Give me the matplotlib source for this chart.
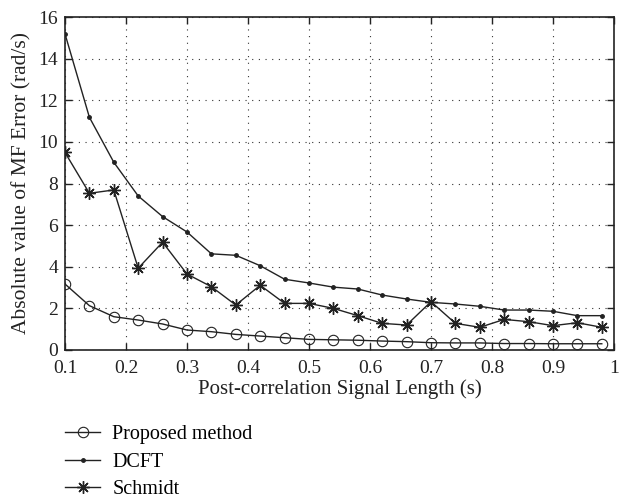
import matplotlib
matplotlib.use("Agg")
import matplotlib.pyplot as plt
import numpy as np

plt.rcParams['font.family'] = ['Liberation Serif', 'DejaVu Serif']
plt.rcParams['font.size'] = 14

x = [0.10, 0.14, 0.18, 0.22, 0.26, 0.30, 0.34, 0.38, 0.42, 0.46, 0.50, 0.54,
     0.58, 0.62, 0.66, 0.70, 0.74, 0.78, 0.82, 0.86, 0.90, 0.94, 0.98]
proposed = [3.17, 2.13, 1.60, 1.44, 1.25, 0.96, 0.88, 0.75, 0.67, 0.59, 0.51, 0.49,
            0.47, 0.43, 0.40, 0.35, 0.34, 0.34, 0.31, 0.31, 0.30, 0.30, 0.30]
dcft = [15.19, 11.18, 9.02, 7.40, 6.41, 5.67, 4.62, 4.55, 4.05, 3.40, 3.22, 3.02,
        2.93, 2.64, 2.45, 2.29, 2.21, 2.10, 1.92, 1.92, 1.86, 1.65, 1.65]
schmidt = [9.49, 7.53, 7.69, 3.93, 5.18, 3.65, 3.04, 2.16, 3.11, 2.24, 2.24, 2.00,
           1.65, 1.28, 1.20, 2.32, 1.28, 1.09, 1.47, 1.36, 1.17, 1.31, 1.09]
xtick_labels = ['0.1', '0.2', '0.3', '0.4', '0.5', '0.6', '0.7', '0.8', '0.9', '1']

fig = plt.figure(figsize=(6.21, 5.0), dpi=100)
ax = fig.add_axes([65/621, 1-350/500, (614-65)/621, (350-17)/500])

l1, = ax.plot(x, proposed, color='#222222', lw=1.0, marker='o', ms=7.5,
              mfc='none', mec='#222222', mew=0.8, label='Proposed method')
l2, = ax.plot(x, dcft, color='#222222', lw=1.0, marker='o', ms=2.5,
              mfc='#222222', mec='#222222', label='DCFT')
l3, = ax.plot(x, schmidt, color='#222222', lw=1.0, marker=(8, 2, 0), ms=9,
              mec='#222222', mew=1.0, label='Schmidt')

ax.set_xlim(0.1, 1.0)
ax.set_ylim(0, 16)
ax.set_xticks(np.arange(0.1, 1.01, 0.1))
ax.set_xticklabels(xtick_labels)
ax.set_yticks(np.arange(0, 17, 2))
ax.tick_params(direction='in', top=True, right=True, length=5, width=1.0,
               labelsize=14, colors='#222222')
ax.tick_params(axis='x', pad=7)
ax.tick_params(axis='y', pad=5)
ax.grid(True, linestyle=(0, (1, 5)), color='#333333', lw=0.8)
for s in ax.spines.values():
    s.set_linewidth(1.2)
    s.set_color('#222222')

ax.set_xlabel('Post-correlation Signal Length (s)', fontsize=15, color='#222222', labelpad=2)
ax.set_ylabel('Absolute value of MF Error (rad/s)', fontsize=15.5, color='#222222', labelpad=5)

fig.legend(handles=[l1, l2, l3], loc='upper left', bbox_to_anchor=(65/621, 1-425/500),
           frameon=False, fontsize=14.5, handlelength=1.75, handletextpad=0.6,
           labelspacing=0.42, borderaxespad=0, borderpad=0)

fig.savefig('out.png', dpi=100)
